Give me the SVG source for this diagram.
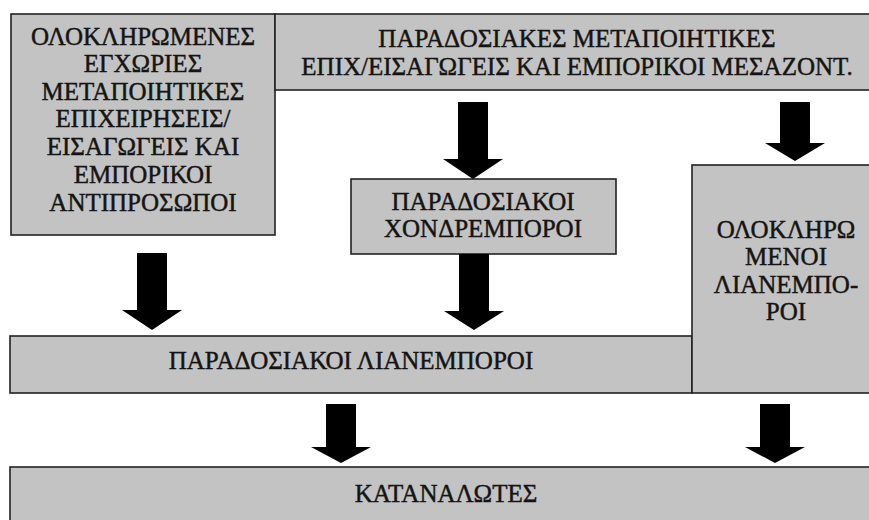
<svg xmlns="http://www.w3.org/2000/svg" width="869" height="520" viewBox="0 0 869 520">
<style>
.box{fill:#c3c3c3;stroke:#222;stroke-width:1.6}
.t{font-family:"Liberation Serif","Times New Roman",serif;font-size:25px;fill:#141414;stroke:#141414;stroke-width:0.45;text-anchor:middle}
.arr{fill:#000}
</style>
<rect width="869" height="520" fill="#fff"/>
<g id="n_integrated_producers">
<rect class="box" x="11" y="14" width="264" height="221"/>
<text class="t" x="143" y="45">ΟΛΟΚΛΗΡΩΜΕΝΕΣ</text>
<text class="t" x="143" y="72">ΕΓΧΩΡΙΕΣ</text>
<text class="t" x="143" y="100">ΜΕΤΑΠΟΙΗΤΙΚΕΣ</text>
<text class="t" x="143" y="127">ΕΠΙΧΕΙΡΗΣΕΙΣ/</text>
<text class="t" x="143" y="155">ΕΙΣΑΓΩΓΕΙΣ ΚΑΙ</text>
<text class="t" x="143" y="183">ΕΜΠΟΡΙΚΟΙ</text>
<text class="t" x="143" y="211">ΑΝΤΙΠΡΟΣΩΠΟΙ</text>
</g>
<g id="n_traditional_producers">
<rect class="box" x="275" y="14" width="610" height="76"/>
<text class="t" x="577" y="47">ΠΑΡΑΔΟΣΙΑΚΕΣ ΜΕΤΑΠΟΙΗΤΙΚΕΣ</text>
<text class="t" x="577" y="75">ΕΠΙΧ/ΕΙΣΑΓΩΓΕΙΣ ΚΑΙ ΕΜΠΟΡΙΚΟΙ ΜΕΣΑΖΟΝΤ.</text>
</g>
<g id="n_wholesalers">
<rect class="box" x="351" y="179" width="265" height="75"/>
<text class="t" x="483" y="210">ΠΑΡΑΔΟΣΙΑΚΟΙ</text>
<text class="t" x="483" y="237">ΧΟΝΔΡΕΜΠΟΡΟΙ</text>
</g>
<g id="n_traditional_retailers">
<rect class="box" x="10" y="336" width="682" height="57"/>
<text class="t" x="351" y="369">ΠΑΡΑΔΟΣΙΑΚΟΙ ΛΙΑΝΕΜΠΟΡΟΙ</text>
</g>
<g id="n_integrated_retailers">
<rect class="box" x="692" y="165" width="190" height="228"/>
<text class="t" x="786" y="238">ΟΛΟΚΛΗΡΩ</text>
<text class="t" x="786" y="265">ΜΕΝΟΙ</text>
<text class="t" x="786" y="293">ΛΙΑΝΕΜΠΟ-</text>
<text class="t" x="786" y="320">ΡΟΙ</text>
</g>
<g id="n_consumers">
<rect class="box" x="10" y="467" width="872" height="70"/>
<text class="t" x="446" y="502">ΚΑΤΑΝΑΛΩΤΕΣ</text>
</g>
<g id="connectors">
<polygon class="arr" points="137,253 167,253 167,310 182,310 152,330 122,310 137,310"/>
<polygon class="arr" points="458,102 488,102 488,159 503,159 473,179 443,159 458,159"/>
<polygon class="arr" points="459,254 489,254 489,311 504,311 474,330 444,311 459,311"/>
<polygon class="arr" points="780,102 810,102 810,143 825,143 795,161 765,143 780,143"/>
<polygon class="arr" points="326,404 356,404 356,447 371,447 341,463 311,447 326,447"/>
<polygon class="arr" points="760,404 790,404 790,447 805,447 775,463 745,447 760,447"/>
</g>
</svg>
